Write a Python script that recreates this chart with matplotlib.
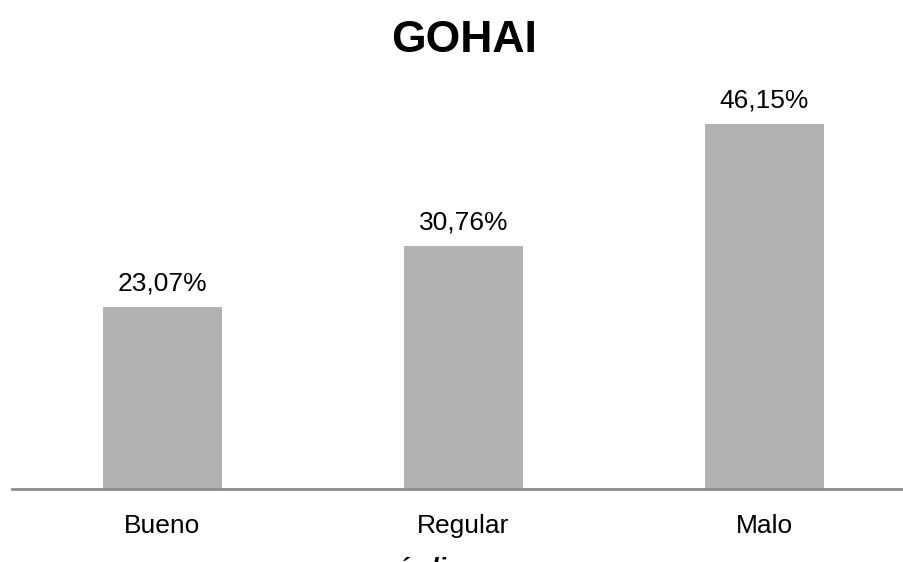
import matplotlib
matplotlib.use("Agg")
import matplotlib.pyplot as plt

categories = ["Bueno", "Regular", "Malo"]
values = [23.07, 30.76, 46.15]
value_labels = ["23,07%", "30,76%", "46,15%"]
title = "GOHAI"
axis_title = "índice"

W, H = 904, 562
plt.rcParams['font.family'] = ['Liberation Sans', 'DejaVu Sans']

fig = plt.figure(figsize=(W / 100, H / 100), dpi=100)
ax = fig.add_axes([12 / W, (H - 489) / H, 903 / W, 395.5 / H])

x = range(len(categories))
ax.bar(x, values, width=0.395, color="#b2b2b2", zorder=2)
ax.set_xlim(-0.5, 2.5)
ax.set_ylim(0, 50)

for xi, v, lab in zip(x, values, value_labels):
    ax.annotate(lab, (xi, v), xytext=(0, 8), textcoords="offset points",
                ha="center", va="bottom", fontsize=19)

ax.set_xticks(list(x))
ax.set_xticklabels(categories, fontsize=19)
ax.tick_params(axis="x", length=0, pad=18)
ax.set_yticks([])
for side in ["top", "right", "left"]:
    ax.spines[side].set_visible(False)
ax.spines["bottom"].set_color("#8c8c8c")
ax.spines["bottom"].set_linewidth(2)

fig.text(464 / W, 1 - 52 / H, title, ha="center", va="baseline",
         fontsize=32, fontweight="bold")
# axis title sits mostly below the bottom edge, as in the source
fig.text(400 / W, 1 - 557 / H, axis_title, ha="left", va="top",
         fontsize=19, fontweight="bold", fontstyle="italic")

fig.savefig("out.png", dpi=100)
